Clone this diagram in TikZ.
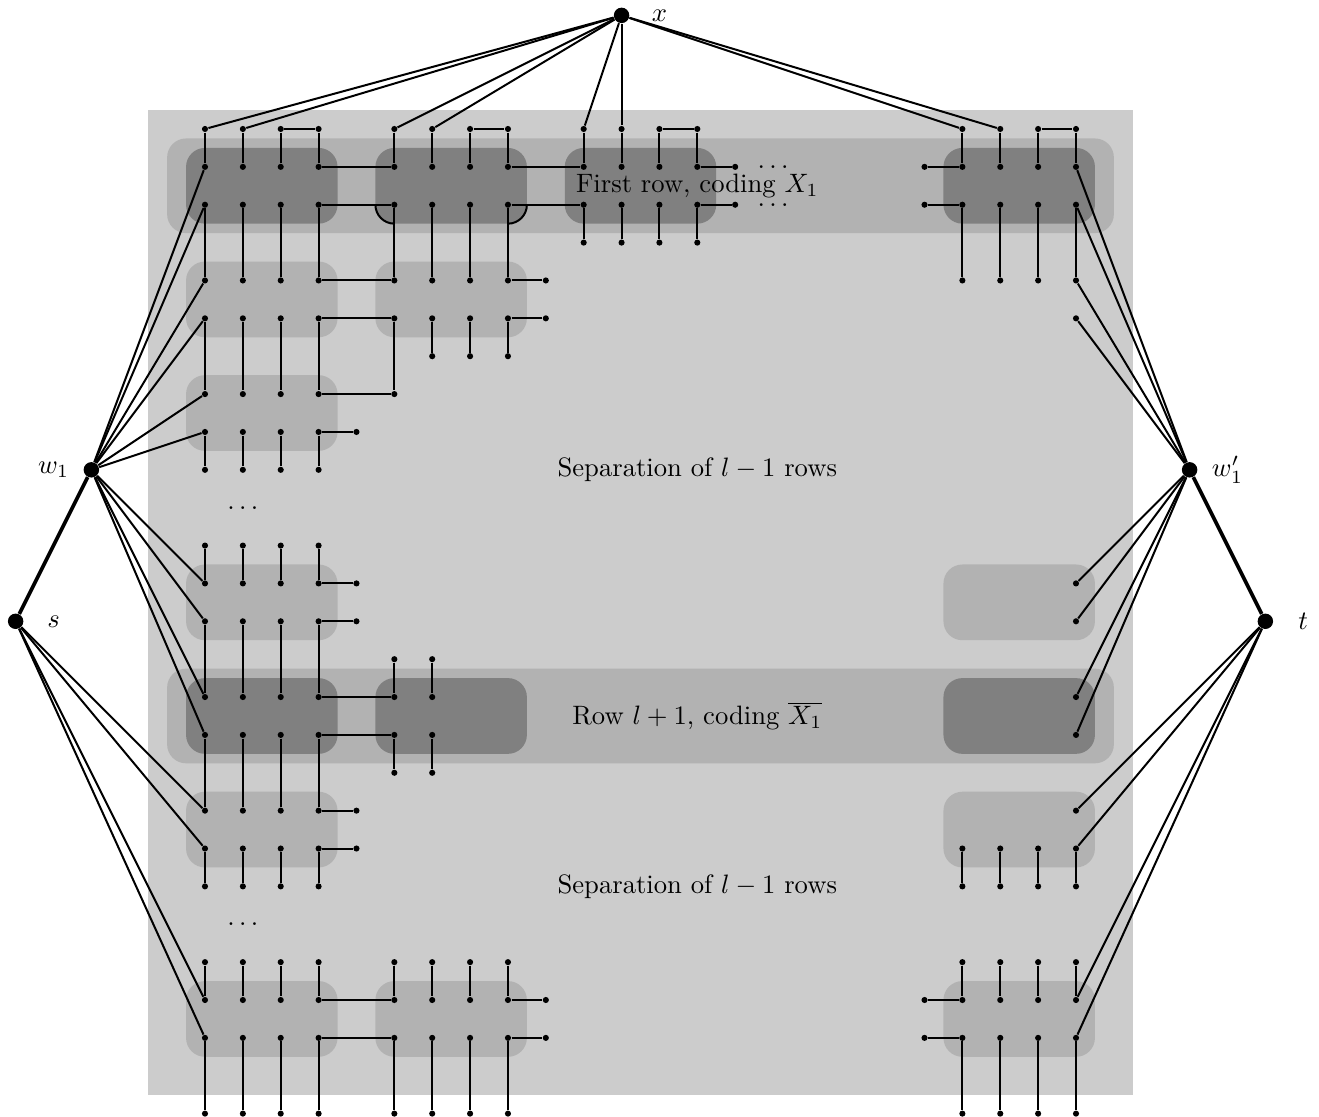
\documentclass[tikz,border=0pt]{standalone}
\usepackage{amssymb}
\begin{document}
\begin{tikzpicture}[x=0.5cm,y=0.5cm,
  dot/.style={circle,fill,inner sep=0pt,minimum size=2.3pt},
  vertex/.style={circle,fill,inner sep=0pt,minimum size=5.8pt},
  edge/.style={line width=0.75pt},
  heavy/.style={line width=1.4pt},
  region/.style={fill=black!20},
  band/.style={fill=black!30,rounded corners=0.25cm},
  darkblk/.style={fill=black!50,rounded corners=0.25cm},
  lightblk/.style={fill=black!30,rounded corners=0.25cm}]
\useasboundingbox (-5.413,3.406) rectangle (29.417,-26.089);

% shaded regions
\fill[region] (-1.5,0.5) rectangle (24.5,-25.5);
\fill[band] (-1,-0.25) rectangle (24,-2.75);
\fill[band] (-1,-14.25) rectangle (24,-16.75);
\foreach \c/\r in {-0.5/0.5,4.5/0.5,9.5/0.5,19.5/0.5,-0.5/14.5,4.5/14.5,19.5/14.5}
  \fill[darkblk] (\c,-\r) rectangle ++(4,-2);
\foreach \c/\r in {-0.5/3.5,4.5/3.5,-0.5/6.5,-0.5/11.5,19.5/11.5,-0.5/17.5,19.5/17.5,-0.5/22.5,4.5/22.5,19.5/22.5}
  \fill[lightblk] (\c,-\r) rectangle ++(4,-2);

% big vertices
\node[vertex] (x) at (11,3) {};
\node[vertex] (w1) at (-3,-9) {};
\node[vertex] (s) at (-5,-13) {};
\node[vertex] (w1p) at (26,-9) {};
\node[vertex] (t) at (28,-13) {};
\node (xl) at (12,3) {$x$};
\node (w1l) at (-4,-9) {$w_1$};
\node (sl) at (-4,-13) {$s$};
\node (w1pl) at (27,-9) {$w_1'$};
\node (tl) at (29,-13) {$t$};

% small vertices, row by row
\foreach \r/\cs in {0/{0,1,2,3,5,6,7,8,10,11,12,13,20,21,22,23},
    1/{0,1,2,3,5,6,7,8,10,11,12,13,14,19,20,21,22,23},
    2/{0,1,2,3,5,6,7,8,10,11,12,13,14,19,20,21,22,23},
    3/{10,11,12,13}, 4/{0,1,2,3,5,6,7,8,9,20,21,22,23},
    5/{0,1,2,3,5,6,7,8,9,23}, 6/{6,7,8}, 7/{0,1,2,3,5}, 8/{0,1,2,3,4},
    9/{0,1,2,3}, 11/{0,1,2,3}, 12/{0,1,2,3,4,23}, 13/{0,1,2,3,4,23},
    14/{5,6}, 15/{0,1,2,3,5,6,23}, 16/{0,1,2,3,5,6,23}, 17/{5,6},
    18/{0,1,2,3,4,23}, 19/{0,1,2,3,4,20,21,22,23}, 20/{0,1,2,3,20,21,22,23},
    22/{0,1,2,3,5,6,7,8,20,21,22,23},
    23/{0,1,2,3,5,6,7,8,9,19,20,21,22,23},
    24/{0,1,2,3,5,6,7,8,9,19,20,21,22,23},
    26/{0,1,2,3,5,6,7,8,20,21,22,23}}
  \foreach \c in \cs
    \node[dot] (d\c-\r) at (\c,-\r) {};

% vertical wires
\foreach \c in {0,1,2,3}
  \foreach \a/\b in {0/1,2/4,5/7,8/9,11/12,13/15,16/18,19/20,22/23,24/26}
    \draw[edge] (d\c-\a) -- (d\c-\b);
\foreach \c in {5,6,7,8}
  \foreach \a/\b in {0/1,2/4,22/23,24/26}
    \draw[edge] (d\c-\a) -- (d\c-\b);
\foreach \c in {6,7,8} \draw[edge] (d\c-5) -- (d\c-6);
\draw[edge] (d5-5) -- (d5-7);
\foreach \c in {5,6}
  \foreach \a/\b in {14/15,16/17}
    \draw[edge] (d\c-\a) -- (d\c-\b);
\foreach \c in {10,11,12,13}
  \foreach \a/\b in {0/1,2/3}
    \draw[edge] (d\c-\a) -- (d\c-\b);
\foreach \c in {20,21,22,23}
  \foreach \a/\b in {0/1,2/4,19/20,22/23,24/26}
    \draw[edge] (d\c-\a) -- (d\c-\b);

% horizontal wires
\foreach \r/\a/\b in {0/2/3,0/7/8,0/12/13,0/22/23,
    1/3/5,1/8/10,1/13/14,1/19/20,2/3/5,2/8/10,2/13/14,2/19/20,
    4/3/5,4/8/9,5/3/5,5/8/9,7/3/5,8/3/4,12/3/4,13/3/4,
    15/3/5,16/3/5,18/3/4,19/3/4,
    23/3/5,23/8/9,23/19/20,24/3/5,24/8/9,24/19/20}
  \draw[edge] (d\a-\r) -- (d\b-\r);
\draw[edge] (4.5,-2) arc[start angle=180,end angle=270,radius=0.5];
\draw[edge] (8,-2.5) arc[start angle=270,end angle=360,radius=0.5];

% long edges to the big vertices
\foreach \c in {0,1,5,6,10,11,20,21} \draw[edge] (x) -- (d\c-0);
\foreach \r in {1,2,4,5,7,8,12,13,15,16} \draw[edge] (w1) -- (d0-\r);
\foreach \r in {18,19,23,24} \draw[edge] (s) -- (d0-\r);
\foreach \r in {1,2,4,5,12,13,15,16} \draw[edge] (w1p) -- (d23-\r);
\foreach \r in {18,19,23,24} \draw[edge] (t) -- (d23-\r);
\draw[heavy] (s) -- (w1);
\draw[heavy] (w1p) -- (t);

% dots and labels
\node (dl1) at (1,-10) {$\ldots$};
\node (dl2) at (1,-21) {$\ldots$};
\node (dr1) at (15,-1) {$\ldots$};
\node (dr2) at (15,-2) {$\ldots$};
\node (first) at (13,-1.5) {First row, coding $X_1$};
\node (sep1) at (13,-9) {Separation of $l-1$ rows};
\node (rowl) at (13,-15.5) {Row $l+1$, coding $\overline{X_1}$};
\node (sep2) at (13,-20) {Separation of $l-1$ rows};
\end{tikzpicture}
\end{document}
